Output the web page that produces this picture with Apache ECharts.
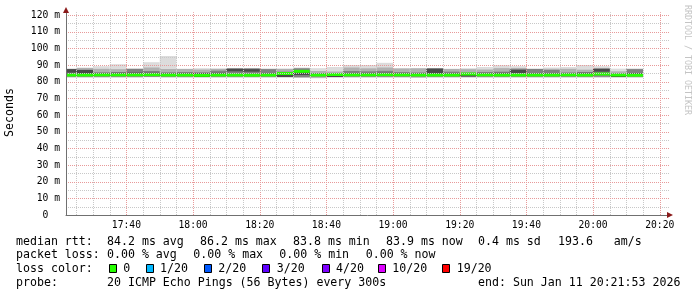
<!DOCTYPE html>
<html><head><meta charset="utf-8">
<script src="https://cdn.jsdelivr.net/npm/echarts@6/dist/echarts.min.js"></script>
<style>html,body{margin:0;padding:0;background:#fff}#c{width:697px;height:297px}</style>
</head><body><div id="c"></div>
<script>
// ---------------- data ----------------
const axisStart = '17:21:53';
const axisEnd = '20:21:53';
const binMinutes = 5;
const binStarts = ['17:20','17:25','17:30','17:35','17:40','17:45','17:50','17:55','18:00','18:05','18:10','18:15','18:20','18:25','18:30','18:35','18:40','18:45','18:50','18:55','19:00','19:05','19:10','19:15','19:20','19:25','19:30','19:35','19:40','19:45','19:50','19:55','20:00','20:05','20:10'];
// smoke layers (ms): outer (light) -> inner (dark)
const smokeOuterHi = [87.8,88.5,89.3,90.5,87.9,91.7,95.4,87.8,88.1,88.1,88.1,88.1,87.8,87.8,88.5,88.1,88.8,90.0,90.0,91.3,88.1,88.1,88.1,87.8,88.1,88.8,89.9,89.3,87.8,88.5,88.8,90.0,89.3,87.8,87.8];
const smokeOuterLo = [82.4,82.4,82.4,82.4,82.4,82.6,82.4,82.4,82.4,82.4,82.4,82.4,82.4,82.4,82.4,82.0,82.4,82.4,82.4,82.4,82.4,82.2,82.4,82.4,82.4,82.4,82.4,82.4,82.4,82.4,82.4,82.4,82.4,82.4,82.4];
const smokeMidHi = [87.7,88.2,87.7,87.5,87.8,88.5,87.6,87.6,87.3,87.6,88.0,88.0,87.7,87.7,88.2,86.4,86.1,88.5,88.0,88.5,87.9,88.0,88.0,87.6,87.5,87.3,88.1,88.2,87.7,87.7,87.7,87.2,88.1,86.2,87.7];
const smokeMidLo = [82.7,82.7,82.7,82.7,82.7,82.8,82.7,82.7,82.7,82.7,82.7,82.7,82.7,82.7,82.7,82.3,82.7,82.7,82.7,82.7,82.7,82.5,82.7,82.7,82.7,82.7,82.7,82.7,82.7,82.7,82.7,82.7,82.7,82.7,82.7];
const smokeInnerHi = [87.6,87.2,85.6,85.8,87.6,86.4,85.6,85.8,85.6,86.6,87.9,87.9,87.5,86.0,87.9,85.2,85.0,86.4,86.2,86.5,85.6,85.5,87.9,86.0,85.4,85.8,86.0,87.3,87.6,87.0,85.5,85.6,87.8,85.1,87.5];
const smokeInnerLo = [83.0,83.0,83.0,83.0,83.0,83.0,83.0,83.0,83.0,83.0,83.0,83.0,83.0,83.0,82.6,83.0,83.0,83.0,83.0,83.0,83.0,83.0,83.0,83.0,83.0,83.0,83.0,83.0,83.0,83.0,83.0,83.0,83.0,83.0,83.0];
const smokeCoreHi = [87.5,87.0,85.2,85.3,85.4,85.3,85.0,85.1,85.1,85.3,87.7,87.5,85.0,84.0,85.9,84.8,83.6,85.2,85.2,85.3,85.3,85.0,87.8,85.0,84.0,85.0,85.3,87.2,85.0,85.0,85.0,85.4,87.7,84.6,85.2];
const smokeCoreLo = [85.4,83.4,83.4,83.4,83.4,83.4,83.4,83.4,82.8,83.4,86.2,86.0,83.4,82.8,84.0,83.4,82.8,83.4,83.4,83.4,83.4,83.4,84.6,83.4,83.1,83.4,84.6,85.2,83.4,83.4,83.4,84.7,86.0,82.8,83.4];
const medianRtt = [84.0,84.0,84.1,84.1,84.1,84.2,84.0,84.0,83.8,84.0,84.0,83.9,84.0,84.9,86.2,84.0,84.3,84.1,84.1,84.2,84.1,84.0,84.0,84.0,84.6,84.1,84.0,84.0,84.0,84.0,84.1,84.0,84.6,84.0,83.9];
const xTickLabels = ['17:40','18:00','18:20','18:40','19:00','19:20','19:40','20:00','20:20'];
const yTickLabels = [0,10,20,30,40,50,60,70,80,90,100,110,120];
const lossLabels = ['0','1/20','2/20','3/20','4/20','10/20','19/20'];
const lossColors = ['#26ff00','#00b8ff','#0059ff','#5e00ff','#7e00ff','#dd00ff','#ff0000'];
const legendLines = {
  rtt: ['median rtt:','84.2 ms avg','86.2 ms max','83.8 ms min','83.9 ms now','0.4 ms sd','193.6   am/s'],
  loss: ['packet loss:','0.00 % avg','0.00 % max','0.00 % min','0.00 % now'],
  probe: ['probe:','20 ICMP Echo Pings (56 Bytes) every 300s','end: Sun Jan 11 20:21:53 2026']
};

// ---------------- layout / style ----------------
const FONT = '"DejaVu Sans Mono", monospace';
const GRID = {left: 66, top: 10, width: 603, height: 205};
const Y_MAX = 123;
function toMin(s){const p=s.split(':').map(Number);return p[0]*60+p[1]+(p[2]||0)/60;}
const X_MIN = toMin(axisStart);
const X_END = toMin(axisEnd);
const X_MAX = X_MIN + (X_END-X_MIN) * GRID.width/600;
const xMinorTicks = [];
for (let m = Math.ceil(X_MIN/5)*5; m <= X_END; m += 5) xMinorTicks.push(m);
const yMinorTicks = [];
for (let v = 5; v <= 120; v += 5) yMinorTicks.push(v);
const GRID_MINOR = '#c8c8c8', GRID_MAJOR = '#e89a9a';

function rectRender(color){
  return function(params, api){
    const p0 = api.coord([api.value(0), api.value(3)]);
    const p1 = api.coord([api.value(1), api.value(2)]);
    const cs = params.coordSys;
    const shape = echarts.graphic.clipRectByRect(
      {x:p0[0], y:p0[1], width:p1[0]-p0[0], height:p1[1]-p0[1]},
      {x:cs.x, y:cs.y, width:cs.width, height:cs.height});
    return shape && {type:'rect', shape, style:{fill:color}};
  };
}
function layer(lo, hi, color){
  return {type:'custom', silent:true, z:2, renderItem: rectRender(color),
    encode:{x:[0,1], y:[2,3]},
    data: binStarts.map((t,i)=>[toMin(t), toMin(t)+binMinutes, lo[i], hi[i]])};
}
const medianSeries = {type:'custom', silent:true, z:3,
  encode:{x:[0,1], y:2},
  data: binStarts.map((t,i)=>[toMin(t), toMin(t)+binMinutes, medianRtt[i]]),
  renderItem(params, api){
    const a = api.coord([api.value(0), api.value(2)]);
    const b = api.coord([api.value(1), api.value(2)]);
    const cs = params.coordSys;
    const shape = echarts.graphic.clipRectByRect(
      {x:a[0], y:a[1]-1.5, width:b[0]-a[0], height:3},
      {x:cs.x, y:cs.y, width:cs.width, height:cs.height});
    return shape && {type:'rect', shape, style:{fill:lossColors[0]}};
  }};
const majorX = xTickLabels.map(toMin);
const vGridSeries = {type:'custom', silent:true, z:5, clip:false,
  data: xMinorTicks.map(m=>[m]),
  renderItem(params, api){
    const v = api.value(0);
    const a = api.coord([v, 0]), b = api.coord([v, 121.7]);
    const x = Math.round(a[0]) + 0.5;
    const major = majorX.some(m=>Math.abs(m-v)<1e-6);
    return {type:'line', shape:{x1:x, y1:a[1], x2:x, y2:b[1]},
      style:{stroke: major?GRID_MAJOR:GRID_MINOR, lineWidth:1, lineDash:[1,1]}};
  }};
const hGridSeries = {type:'custom', silent:true, z:5, clip:false,
  data: yMinorTicks.map(v=>[X_MIN, v]),
  renderItem(params, api){
    const v = api.value(1);
    const a = api.coord([X_MIN, v]), b = api.coord([X_MAX, v]);
    const y = Math.round(a[1]) + 0.5;
    const major = yTickLabels.indexOf(v) >= 0;
    return {type:'line', shape:{x1:a[0], y1:y, x2:b[0], y2:y},
      style:{stroke: major?GRID_MAJOR:GRID_MINOR, lineWidth:1, lineDash:[1,1]}};
  }};

function fmtHM(v){const h=Math.floor(v/60+1e-9), m=Math.round(v-h*60);return String(h).padStart(2,'0')+':'+String(m).padStart(2,'0');}

// legend graphics
const graphics = [];
function txt(x,y,s,extra){graphics.push(Object.assign({type:'text', x, y, silent:true,
  style:{text:s, font:'11.6px '+FONT, fill:'#000', verticalAlign:'middle'}}, extra||{}));}
const LINE_Y = [241.5, 255.3, 269, 282.7];
const rttX = [16,107,200,293,386,478,558];
legendLines.rtt.forEach((s,i)=>txt(rttX[i], LINE_Y[0], s));
const lossX = [16,107,193.3,279.3,365.7];
legendLines.loss.forEach((s,i)=>txt(lossX[i], LINE_Y[1], s));
txt(16, LINE_Y[2], 'loss color:');
const lossTextX = [123.3,160,218.3,276.7,336,392.3,456.7];
lossLabels.forEach((s,i)=>{
  graphics.push({type:'rect', silent:true, shape:{x:Math.round(lossTextX[i]-14.5)+0.5, y:LINE_Y[2]-4.5, width:7, height:8},
    style:{fill:lossColors[i], stroke:'#000', lineWidth:1}});
  txt(lossTextX[i], LINE_Y[2], s);
});
const probeX = [16,107,478];
legendLines.probe.forEach((s,i)=>txt(probeX[i], LINE_Y[3], s));
// watermark
graphics.push({type:'text', x:687.5, y:5, rotation:-Math.PI/2, silent:true,
  style:{text:'RRDTOOL / TOBI OETIKER', font:'8.3px '+FONT, fill:'#c4c4c4', verticalAlign:'middle', align:'left'}});
// arrows
const xEndPx = GRID.left + GRID.width, yBase = GRID.top + GRID.height;
graphics.push({type:'polygon', silent:true, z:20, shape:{points:[[xEndPx-2,yBase-3],[xEndPx+4,yBase],[xEndPx-2,yBase+3]]}, style:{fill:'#8b1a1a'}});
graphics.push({type:'polygon', silent:true, z:20, shape:{points:[[GRID.left-3,GRID.top+3],[GRID.left,GRID.top-3],[GRID.left+3,GRID.top+3]]}, style:{fill:'#8b1a1a'}});

const chart = echarts.init(document.getElementById('c'), null, {renderer:'canvas'});
chart.setOption({
  animation:false,
  backgroundColor:'#fff',
  grid:{left:GRID.left, top:GRID.top, width:GRID.width, height:GRID.height, containLabel:false, outerBoundsMode:'none'},
  xAxis:{type:'value', min:X_MIN, max:X_MAX, z:10,
    axisLine:{show:true, onZero:false, lineStyle:{color:'#707070', width:1}},
    axisTick:{show:false},
    axisLabel:{customValues:majorX, formatter:fmtHM, margin:5, color:'#000', fontFamily:FONT, fontSize:9.7},
    splitLine:{show:false}
  },
  yAxis:{type:'value', min:0, max:Y_MAX, z:10,
    name:'Seconds', nameLocation:'middle', nameGap:50, nameRotate:90,
    nameTextStyle:{fontFamily:FONT, fontSize:11.6, color:'#000'},
    axisLine:{show:true, lineStyle:{color:'#707070', width:1}},
    axisTick:{show:false},
    axisLabel:{customValues:yTickLabels, formatter:v=> v===0 ? '0  ' : v+' m', margin:6, color:'#000', fontFamily:FONT, fontSize:9.7},
    splitLine:{show:false}
  },
  graphic: graphics,
  series:[
    layer(smokeOuterLo, smokeOuterHi, '#dcdcdc'),
    layer(smokeMidLo, smokeMidHi, '#b0b0b0'),
    layer(smokeInnerLo, smokeInnerHi, '#808080'),
    layer(smokeCoreLo, smokeCoreHi, '#4a4a4a'),
    medianSeries,
    vGridSeries,
    hGridSeries
  ]
});
</script></body></html>
